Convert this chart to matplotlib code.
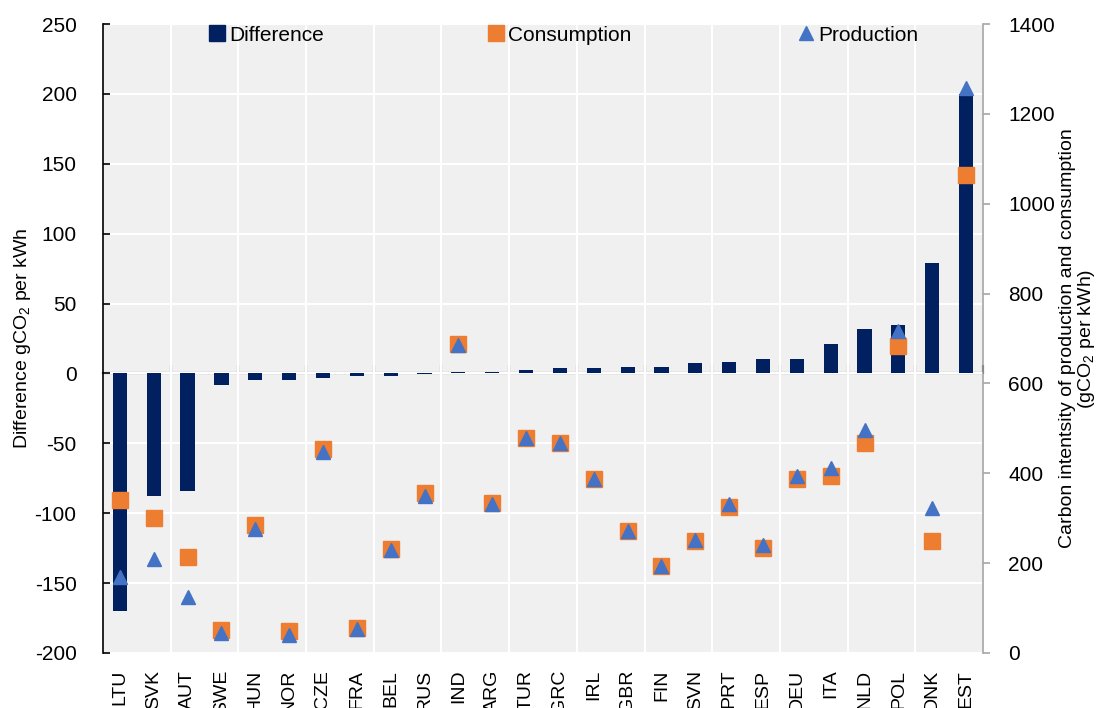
import numpy as np
import matplotlib
matplotlib.use("Agg")
import matplotlib.pyplot as plt
from matplotlib.lines import Line2D
from matplotlib.patches import Patch

# Carbon intensity of electricity: production vs consumption, by country
countries = ["LTU", "SVK", "AUT", "SWE", "HUN", "NOR", "CZE", "FRA", "BEL", "RUS",
             "IND", "ARG", "TUR", "GRC", "IRL", "GBR", "FIN", "SVN", "PRT", "ESP",
             "DEU", "ITA", "NLD", "POL", "DNK", "EST"]
difference = [-170, -88, -84, -8, -5, -5, -3, -2, -2, -0.5,
              1.3, 1, 2.5, 3.7, 3.7, 4.9, 4.9, 7.3, 8.2, 10.6,
              10.6, 21, 32, 35, 79, 200]
consumption = [340, 300, 213, 51, 284, 48, 453, 55, 231, 355,
               687, 333, 478, 467, 387, 271, 193, 249, 324, 233,
               387, 395, 467, 683, 249, 1064]
production = [170, 210, 125, 44, 276, 39, 448, 53, 230, 350,
              685, 331, 478, 467, 387, 271, 193, 252, 332, 240,
              394, 412, 496, 716, 322, 1258]

NAVY = "#002060"
ORANGE = "#ED7D31"
BLUE = "#4472C4"
GREY = "#A6A6A6"

plt.rcParams["font.family"] = ["Liberation Sans Narrow", "Liberation Sans", "DejaVu Sans"]
plt.rcParams["axes.unicode_minus"] = False
FS = 15

fig = plt.figure(figsize=(11.12, 7.08), dpi=100)
ax = fig.add_axes([0.0926, 0.0777, 0.7914, 0.8884])
x = np.arange(len(countries))

ax.bar(x, difference, width=0.42, color=NAVY, zorder=3)
ax.set_xlim(-0.5, len(countries) - 0.5)
ax.set_ylim(-200, 250)
ax.set_yticks(np.arange(-200, 251, 50))
ax.set_facecolor("#F0F0F0")

ax.set_xticks(x)
ax.set_xticklabels(countries, rotation=90, va="top", ha="center")
ax.set_xticks(np.arange(1.5, len(countries) - 1, 2), minor=True)
ax.tick_params(axis="x", which="both", length=0, pad=12, labelsize=14)
ax.grid(True, which="minor", axis="x", color="white", lw=1.5)
ax.grid(True, which="major", axis="y", color="white", lw=1.5)
ax.set_axisbelow(True)

for s in ["top", "bottom", "right"]:
    ax.spines[s].set_visible(False)
ax.spines["left"].set_color("black")
ax.spines["left"].set_linewidth(1.2)
ax.tick_params(axis="y", direction="in", length=5, width=1.2, labelsize=FS, pad=19)

# zero line with small tick marks between pairs of countries
zero_axis = ax.secondary_xaxis(0, transform=ax.transData)
zero_axis.set_xticks(np.arange(1.5, len(countries), 2))
zero_axis.tick_params(direction="in", length=6, width=1.5, labelbottom=False)
zero_axis.spines["bottom"].set_linewidth(1.5)
zero_axis.spines["bottom"].set_color("black")

ax2 = ax.twinx()
ax2.plot(x, consumption, "s", color=ORANGE, ms=11, zorder=4)
ax2.plot(x, production, "^", color=BLUE, ms=10, zorder=5)
ax2.set_ylim(0, 1400)
ax2.set_yticks(np.arange(0, 1401, 200))
for s in ["top", "bottom", "left"]:
    ax2.spines[s].set_visible(False)
ax2.spines["right"].set_color(GREY)
ax2.spines["right"].set_linewidth(1.2)
ax2.tick_params(axis="y", direction="out", length=5, width=1.2, color=GREY,
                labelsize=FS, pad=13)

# legend entries spread across the top of the plot
entries = [
    (Patch(color=NAVY), "Difference", 0.12),
    (Patch(color=ORANGE), "Consumption", 0.437),
    (Line2D([], [], ls="none", marker="^", color=BLUE, ms=10), "Production", 0.789),
]
for handle, label, xpos in entries:
    leg = ax2.legend([handle], [label], loc="center left", bbox_to_anchor=(xpos, 0.9825),
                     frameon=False, fontsize=FS, borderpad=0, borderaxespad=0,
                     handlelength=0.8, handleheight=0.8, handletextpad=0.2)
    ax2.add_artist(leg)
ax2.legend_ = None

yc = 0.0777 + 0.8884 / 2
fig.text(23 / 1112, yc, "Difference gCO$_{\\mathregular{2}}$ per kWh",
         rotation=90, ha="center", va="center", fontsize=14)
fig.text(1078 / 1112, yc,
         "Carbon intentsity of production and consumption\n(gCO$_{\\mathregular{2}}$ per kWh)",
         rotation=90, ha="center", va="center", fontsize=14, multialignment="center",
         linespacing=1.05)

fig.savefig("out.png", dpi=100)
